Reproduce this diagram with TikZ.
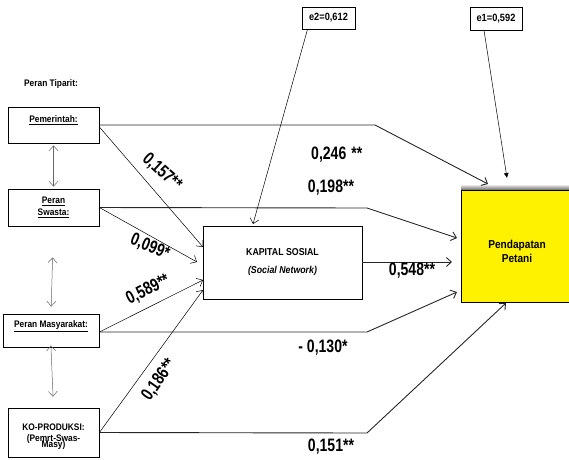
\documentclass[tikz,border=0pt]{standalone}
\usepackage{fontspec}
\usetikzlibrary{arrows.meta}
\setmainfont{Liberation Sans}[FakeStretch=0.88]
\newfontfamily\coeffont{Liberation Sans}[FakeStretch=0.78]

\tikzset{
  box/.style={draw,line width=0.8pt,inner sep=0},
  txt/.style={font=\bfseries\fontsize{9.5}{12}\selectfont,inner sep=0,align=center},
  coef/.style={font=\coeffont\bfseries\fontsize{18}{20}\selectfont,inner sep=0},
  tip/.style={-{Straight Barb[length=5pt,width=9pt]}},
  route/.style={tip,line width=0.9pt,draw=black!85},
  link/.style={tip,line width=0.5pt},
  swap/.style={{Straight Barb[length=5pt,width=9pt]}-{Straight Barb[length=5pt,width=9pt]},line width=0.5pt,draw=black!60}
}

\begin{document}
\begin{tikzpicture}[x=1pt,y=-1pt]
\useasboundingbox (0,0) rectangle (569,459);

% actors
\node[txt] (title) at (51,84) {Peran Tiparit:};
\node[box,minimum width=91,minimum height=36] (pem) at (53.5,125) {};
\node[txt] (pemT) at (53.5,120) {\underline{Pemerintah:}};
\node[box,minimum width=91,minimum height=37,txt] (swa) at (53.5,207.5) {\underline{Peran}\\\underline{Swasta:}};
\node[box,minimum width=96,minimum height=33] (mas) at (51,330.5) {};
\node[txt] (masT) at (51,326) {\underline{Peran Masyarakat:}};
\node[box,minimum width=91,minimum height=49] (ko) at (53.5,432.5) {};
\node[txt] (koT) at (53.5,437) {KO-PRODUKSI:\\[-1pt](Pemrt-Swas-\\[-6pt]Masy)};

% mediator and outcome
\node[box,minimum width=159,minimum height=73,txt,font=\bfseries\fontsize{10}{12}\selectfont] (ks) at (282.5,262.5) {KAPITAL SOSIAL\\[6pt]{\itshape (Social Network)}};
\shade[top color=white,bottom color=black!60] (461,184) rectangle (573,190);
\node[box,fill=yellow,minimum width=112,minimum height=112] (pend) at (517,246) {};
\node[txt,font=\bfseries\fontsize{11.5}{14}\selectfont] (pendT) at (517,251) {Pendapatan\\Petani};

% errors
\node[box,minimum width=53,minimum height=22,txt,font=\bfseries\fontsize{10.5}{12}\selectfont] (e2) at (328.5,18) {e2=0,612};
\node[box,minimum width=52,minimum height=23,txt,font=\bfseries\fontsize{10.5}{12}\selectfont] (e1) at (496,18.5) {e1=0,592};

% bend points and tips
\coordinate (b1) at (375,125);
\coordinate (b2) at (367,208);
\coordinate (b3) at (367,332);
\coordinate (b4) at (367,433);
\coordinate (t1) at (488,184);
\coordinate (t2) at (457,238);
\coordinate (t3) at (457,292);
\coordinate (t4) at (506,303);
\coordinate (t5) at (452,262);
\coordinate (k1) at (203,247);
\coordinate (k2) at (197,262);
\coordinate (k3) at (203,280);
\coordinate (k4) at (203,290);
\coordinate (te2) at (253,224);
\coordinate (te1) at (507,178);

% links between actors
\draw[swap,shorten <=2pt,shorten >=2pt] (pem.south) -- (swa.north);
\draw[swap,shorten <=31pt,shorten >=7pt] (swa.south) -- (mas.north);
\draw[swap,shorten <=-2pt,shorten >=11pt] (mas.south) -- (ko.north);

% direct paths to Pendapatan
\draw[route] (pem.east) -- (b1) -- (t1);
\draw[route] (swa.east) -- (b2) -- (t2);
\draw[route] (mas.east |- b3) -- (b3) -- (t3);
\draw[route] (ko.east) -- (b4) -- (t4);
\draw[route] (ks.east |- t5) -- (t5);

% paths to Kapital Sosial
\draw[link] ([yshift=-2pt]pem.east) -- (k1);
\draw[link] (swa.east) -- (k2);
\draw[link] (mas.east |- b3) -- (k3);
\draw[link] (ko.east) -- (k4);

% error terms
\draw[link] ([xshift=-21pt]e2.south) -- (te2);
\draw[-{Latex[length=5pt,width=5pt]},line width=0.5pt] ([xshift=-12pt]e1.south) -- (te1);

% coefficients
\node[coef,anchor=west] (c1) at (311,155) {0,246\hspace{5pt}**};
\node[coef] (c2) at (331,188) {0,198**};
\node[coef] (c3) at (412,271) {0,548**};
\node[coef] (c4) at (323,348) {- 0,130*};
\node[coef] (c5) at (331,447) {0,151**};
\node[coef,rotate=-42] (c6) at (162,172) {0,157**};
\node[coef,rotate=-22] (c7) at (150,247) {0,099*};
\node[coef,rotate=27] (c8) at (148,290) {0,589**};
\node[coef,rotate=55] (c9) at (159,380) {0,186**};
\end{tikzpicture}
\end{document}
